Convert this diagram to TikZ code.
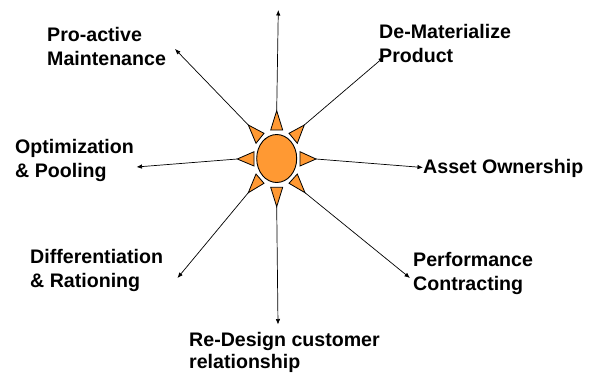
\documentclass[tikz,border=0pt]{standalone}
\usepackage{fontspec}
\setmainfont{Liberation Sans}
\usetikzlibrary{arrows.meta,shapes.geometric}
\tikzset{
 ray/.style={fill=sunc,draw=black,line width=0.8pt,line join=miter},
 conn/.style={draw=black,line width=0.7pt,-{Latex[length=5.5pt,width=4.5pt]}},
 lbl/.style={font=\fontsize{19.6}{24}\selectfont\bfseries,align=left,anchor=north west,inner sep=0pt,text=black}
}
\definecolor{sunc}{HTML}{FF9933}
\begin{document}
\begin{tikzpicture}[x=1pt,y=-1pt]
\useasboundingbox (0,0) rectangle (590,373);
\node[ellipse,draw=black,fill=sunc,line width=0.9pt,minimum width=40pt,minimum height=48pt,inner sep=0pt] (sun) at (276.7,158.5) {};
\draw[ray] (276.7,110.7) coordinate (at) -- (270.7,130) -- (282.7,130) -- cycle;
\draw[ray] (304.3,125) coordinate (aur) -- (289,133.3) -- (297.3,143.3) -- cycle;
\draw[ray] (316,159) coordinate (ar) -- (300,151.7) -- (300,166) -- cycle;
\draw[ray] (305,192.7) coordinate (alr) -- (297.3,174) -- (289,183.3) -- cycle;
\draw[ray] (276.7,206.7) coordinate (ab) -- (270.7,187.3) -- (282.7,187.3) -- cycle;
\draw[ray] (248.3,192.7) coordinate (all) -- (256,174) -- (264,183.3) -- cycle;
\draw[ray] (237.3,159) coordinate (al) -- (254,151.7) -- (254,166) -- cycle;
\draw[ray] (248.3,125) coordinate (aul) -- (264,133.3) -- (256,143.3) -- cycle;
\coordinate (et) at (278.3,10);
\coordinate (eur) at (384,57);
\coordinate (er) at (423,167.5);
\coordinate (elr) at (410,278);
\coordinate (eb) at (278,324.5);
\coordinate (ell) at (177.5,278);
\coordinate (el) at (136.5,167);
\coordinate (eul) at (175,49);
\draw[conn] (at) -- (et);
\draw[conn] (aur) -- (eur);
\draw[conn] (ar) -- (er);
\draw[conn] (alr) -- (elr);
\draw[conn] (ab) -- (eb);
\draw[conn] (all) -- (ell);
\draw[conn] (al) -- (el);
\draw[conn] (aul) -- (eul);
\node[lbl] (n1) at (47,27) {Pro-active\\Maintenance};
\node[lbl] (n2) at (379,24) {De-Materialize\\Product};
\node[lbl] (n3) at (15,139) {Optimization\\\& Pooling};
\node[lbl] (n4) at (423,159) {Asset Ownership};
\node[lbl] (n5) at (30,249) {Differentiation\\\& Rationing};
\node[lbl] (n6) at (413,252) {Performance\\Contracting};
\node[lbl] (n7) at (189,332) {Re-Design customer\\[-1.5pt]relationship};
\end{tikzpicture}
\end{document}
